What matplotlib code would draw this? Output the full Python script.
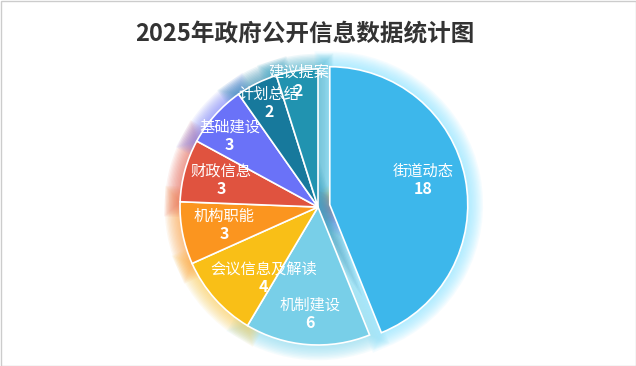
import matplotlib
matplotlib.use("Agg")
from matplotlib import pyplot as plt
from matplotlib.patches import Wedge, Rectangle
import numpy as np

plt.rcParams['font.family'] = ['Noto Sans CJK SC', 'DejaVu Sans']

# data
categories = ['街道动态', '机制建设', '会议信息及解读', '机构职能', '财政信息', '基础建设', '计划总结', '建议提案']
values = [18, 6, 4, 3, 3, 3, 2, 2]
colors = ['#3DB7EB', '#78CFE8', '#F9BF17', '#FB951F', '#E0533F', '#6A72F8', '#17799C', '#2193B0']
glow_colors = ['#8EE6FF', '#8FDDF2', '#FBD060', '#FBA850', '#E87060', '#8088FA', '#3C93B5', '#45AFCA']
# label radius (fraction of R) and angle nudge (deg)
label_r = [0.70, 0.78, 0.65, 0.69, 0.73, 0.82, 0.83, 0.92]
label_da = [4, 0, 11, 0, 0, 3, -1, 0]

W, H = 636, 366
fig = plt.figure(figsize=(W / 100, H / 100), dpi=100)
ax = fig.add_axes([0, 0, 1, 1])

cx, cy, R = 318, H - 207, 138
explode = [12] + [0] * (len(values) - 1)

wedges, _ = ax.pie(values, colors=colors, startangle=90, counterclock=False,
                   center=(cx, cy), radius=R, explode=explode,
                   wedgeprops=dict(edgecolor='white', linewidth=1.2, zorder=3))

# soft glow around each slice
for w, gc in zip(wedges, glow_colors):
    for lw in range(2, 24, 2):
        ax.add_patch(Wedge(w.center, w.r, w.theta1, w.theta2, facecolor='none',
                           edgecolor=gc, linewidth=lw, alpha=0.09, zorder=1))

# labels inside slices
for w, name, v, lr, da in zip(wedges, categories, values, label_r, label_da):
    mid = np.deg2rad((w.theta1 + w.theta2) / 2 + da)
    x = w.center[0] + lr * R * np.cos(mid)
    y = w.center[1] + lr * R * np.sin(mid)
    ax.text(x, y + 9, name, color='white', fontsize=11, fontweight='medium',
            ha='center', va='center', zorder=5)
    ax.text(x, y - 9, str(v), color='white', fontsize=11.5, fontweight='bold',
            ha='center', va='center', zorder=5)

ax.text(305, H - 34, '2025年政府公开信息数据统计图', fontsize=17, fontweight='bold',
        color='#333333', ha='center', va='center')

ax.add_patch(Rectangle((0.5, 0.5), W - 1, H - 1, facecolor='none', edgecolor='#cccccc', linewidth=1))

ax.set_xlim(0, W)
ax.set_ylim(0, H)
ax.set_aspect('equal')
ax.axis('off')

fig.savefig('out.png', dpi=100)
